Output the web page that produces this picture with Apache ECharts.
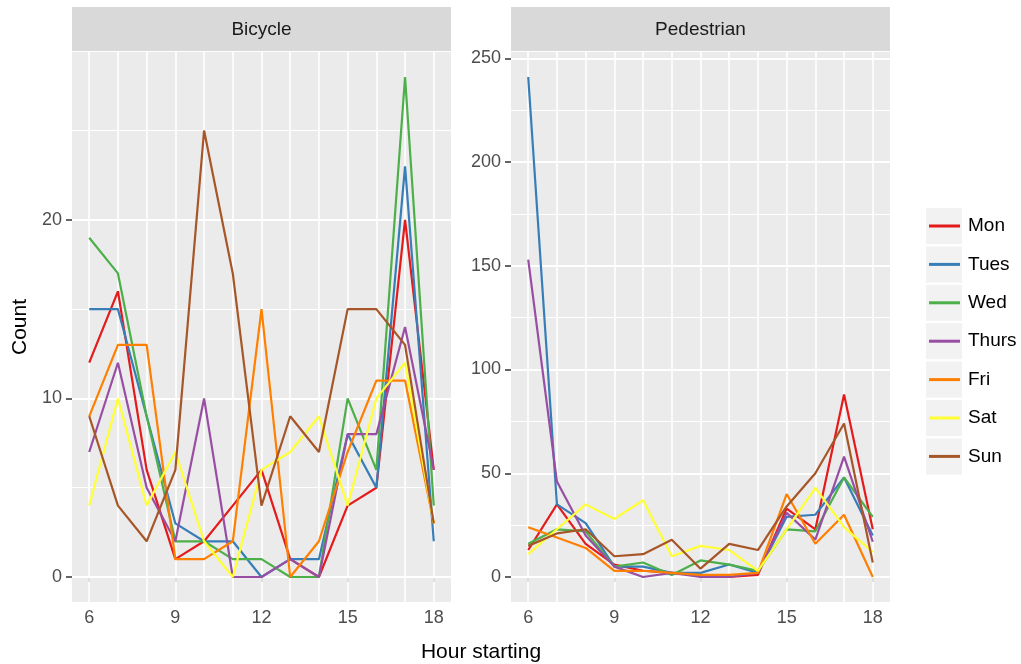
<!DOCTYPE html>
<html>
<head>
<meta charset="utf-8">
<script src="https://cdn.jsdelivr.net/npm/echarts@6/dist/echarts.min.js"></script>
<style>
html,body{margin:0;padding:0;background:#fff;}
#chart{width:1021px;height:664px;}
</style>
</head>
<body>
<div id="chart"></div>
<script>
// ---- data ----
const hours = [6, 7, 8, 9, 10, 11, 12, 13, 14, 15, 16, 17, 18];
const days = ['Mon', 'Tues', 'Wed', 'Thurs', 'Fri', 'Sat', 'Sun'];
const panels = ['Bicycle', 'Pedestrian'];

const bikeMon   = [12, 16, 6, 1, 2, 4, 6, 1, 0, 4, 5, 20, 6];
const bikeTues  = [15, 15, 9, 3, 2, 2, 0, 1, 1, 8, 5, 23, 2];
const bikeWed   = [19, 17, 9, 2, 2, 1, 1, 0, 0, 10, 6, 28, 4];
const bikeThurs = [7, 12, 5, 2, 10, 0, 0, 1, 0, 8, 8, 14, 6];
const bikeFri   = [9, 13, 13, 1, 1, 2, 15, 0, 2, 7, 11, 11, 3];
const bikeSat   = [4, 10, 4, 7, 2, 0, 6, 7, 9, 4, 10, 12, 3];
const bikeSun   = [9, 4, 2, 6, 25, 17, 4, 9, 7, 15, 15, 13, 3];

const pedMon   = [13, 35, 16, 6, 3, 2, 1, 0, 1, 33, 23, 88, 23];
const pedTues  = [241, 35, 26, 5, 5, 2, 2, 6, 2, 29, 30, 48, 20];
const pedWed   = [16, 23, 22, 5, 7, 1, 8, 6, 3, 23, 22, 48, 29];
const pedThurs = [153, 46, 20, 5, 0, 2, 0, 0, 2, 31, 18, 58, 17];
const pedFri   = [24, 19, 14, 3, 3, 2, 1, 1, 2, 40, 16, 30, 0];
const pedSat   = [11, 23, 35, 28, 37, 10, 15, 13, 3, 23, 43, 24, 12];
const pedSun   = [15, 21, 23, 10, 11, 18, 4, 16, 13, 34, 50, 74, 7];

const xTicks = [6, 9, 12, 15, 18];
const bikeYTicks = [0, 10, 20];
const bikeYMinor = [5, 15, 25];
const pedYTicks = [0, 50, 100, 150, 200, 250];
const pedYMinor = [25, 75, 125, 175, 225];

// ---- styling ----
const colors = ['#E41A1C', '#377EB8', '#4DAF4A', '#984EA3', '#FF7F00', '#FFFF33', '#A65628'];
const FONT = 'Liberation Sans, Arial, sans-serif';
const bikeSeries = [bikeMon, bikeTues, bikeWed, bikeThurs, bikeFri, bikeSat, bikeSun];
const pedSeries = [pedMon, pedTues, pedWed, pedThurs, pedFri, pedSat, pedSun];

function expandRange(vals, mult) {
  let lo = Infinity, hi = -Infinity;
  vals.forEach(a => a.forEach(v => { lo = Math.min(lo, v); hi = Math.max(hi, v); }));
  const pad = (hi - lo) * mult;
  return [lo - pad, hi + pad];
}
const bikeR = expandRange(bikeSeries, 0.05);
const pedR = expandRange(pedSeries, 0.05);
const xR = expandRange([hours], 0.05);

const grids = [
  { left: 72, top: 52, width: 379, height: 550, show: true, backgroundColor: '#EBEBEB', borderWidth: 0 },
  { left: 511, top: 52, width: 379, height: 550, show: true, backgroundColor: '#EBEBEB', borderWidth: 0 }
];

function xAxisFor(i) {
  return {
    type: 'value', gridIndex: i, min: xR[0], max: xR[1],
    axisLine: { show: false },
    splitLine: { show: false },
    axisTick: { show: true, customValues: xTicks, length: 5, lineStyle: { color: '#333333', width: 1.5 } },
    axisLabel: { customValues: xTicks, color: '#4D4D4D', fontSize: 18, fontFamily: FONT, margin: 7 }
  };
}
function yAxisFor(i, r, ticks) {
  return {
    type: 'value', gridIndex: i, min: r[0], max: r[1],
    axisLine: { show: false },
    splitLine: { show: false },
    axisTick: { show: true, customValues: ticks, length: 6, lineStyle: { color: '#333333', width: 1.5 } },
    axisLabel: { customValues: ticks, color: '#4D4D4D', fontSize: 18, fontFamily: FONT, margin: 10 }
  };
}

function gridLineSeries(i, yMajor, yMinor) {
  const data = [];
  hours.forEach(h => data.push({ xAxis: h, lineStyle: { color: '#FFFFFF', width: 1.6, type: 'solid' } }));
  yMajor.forEach(v => data.push({ yAxis: v, lineStyle: { color: '#FFFFFF', width: 2, type: 'solid' } }));
  yMinor.forEach(v => data.push({ yAxis: v, lineStyle: { color: '#FFFFFF', width: 1, type: 'solid' } }));
  return {
    type: 'line', xAxisIndex: i, yAxisIndex: i, data: [], z: 1, silent: true,
    markLine: { z: 1, zlevel: 0, silent: true, symbol: ['none', 'none'], label: { show: false }, animation: false, data: data }
  };
}

const series = [gridLineSeries(0, bikeYTicks, bikeYMinor), gridLineSeries(1, pedYTicks, pedYMinor)];
days.forEach((d, k) => {
  series.push({
    name: d, type: 'line', xAxisIndex: 0, yAxisIndex: 0, z: 10,
    data: hours.map((h, j) => [h, bikeSeries[k][j]]),
    symbol: 'none', lineStyle: { color: colors[k], width: 2.2 }, itemStyle: { color: colors[k] }
  });
  series.push({
    name: d, type: 'line', xAxisIndex: 1, yAxisIndex: 1, z: 10,
    data: hours.map((h, j) => [h, pedSeries[k][j]]),
    symbol: 'none', lineStyle: { color: colors[k], width: 2.2 }, itemStyle: { color: colors[k] }
  });
});

// legend: one legend per entry so rows line up with key boxes
const legendTop0 = 208, legendStep = 38.4, keySize = 36;
const legends = days.map((d, k) => ({
  data: [d], orient: 'vertical', left: 929, top: legendTop0 + k * legendStep + keySize / 2 - 11,
  padding: 0, itemWidth: 31, itemHeight: 3, icon: 'rect', selectedMode: false,
  textStyle: { fontSize: 19, fontFamily: FONT, color: '#000', lineHeight: 22, padding: [0, 0, 0, 3] }
}));

const graphics = [];
days.forEach((d, k) => {
  graphics.push({ type: 'rect', left: 926, top: legendTop0 + k * legendStep, z: -1,
    shape: { width: keySize, height: keySize }, style: { fill: '#F2F2F2' } });
});
grids.forEach((g, i) => {
  graphics.push({ type: 'rect', left: g.left, top: 7, z: -1,
    shape: { width: g.width, height: 44 }, style: { fill: '#D9D9D9' } });
  graphics.push({ type: 'text', x: g.left + g.width / 2, y: 30, z: 5,
    style: { text: panels[i], fill: '#1A1A1A', font: '19px ' + FONT, textAlign: 'center', textVerticalAlign: 'middle' } });
});
graphics.push({ type: 'text', x: 481, y: 652, style: { text: 'Hour starting', fill: '#000', font: '21px ' + FONT, textAlign: 'center', textVerticalAlign: 'middle' } });
graphics.push({ type: 'text', x: 20, y: 327, rotation: Math.PI / 2, style: { text: 'Count', fill: '#000', font: '21px ' + FONT, textAlign: 'center', textVerticalAlign: 'middle' } });

const chart = echarts.init(document.getElementById('chart'), null, { renderer: 'canvas' });
chart.setOption({
  animation: false,
  backgroundColor: '#FFFFFF',
  color: colors,
  grid: grids,
  xAxis: [xAxisFor(0), xAxisFor(1)],
  yAxis: [yAxisFor(0, bikeR, bikeYTicks), yAxisFor(1, pedR, pedYTicks)],
  legend: legends,
  series: series,
  graphic: graphics
});
</script>
</body>
</html>
